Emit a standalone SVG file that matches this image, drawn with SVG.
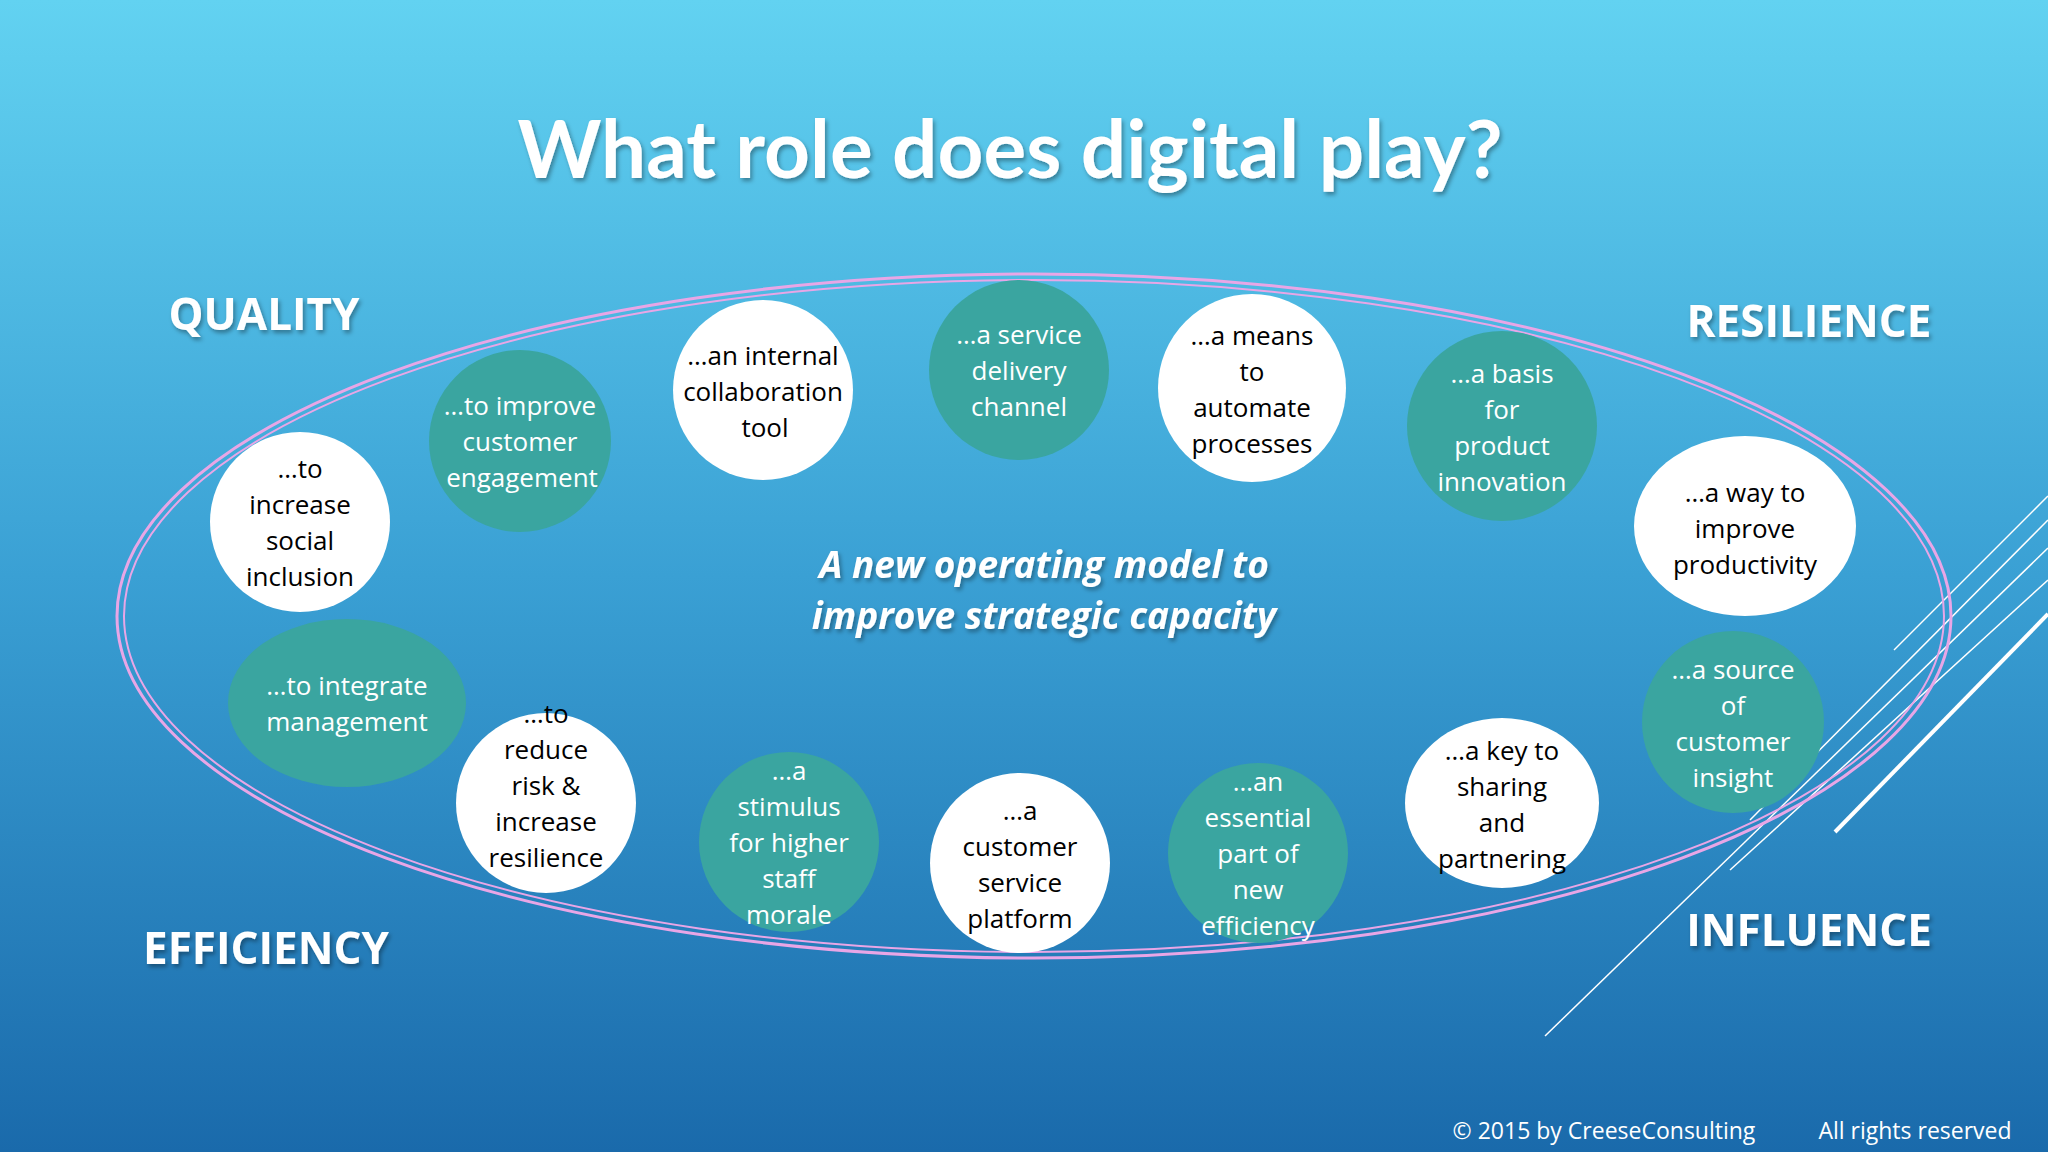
<svg xmlns="http://www.w3.org/2000/svg" width="2048" height="1152" viewBox="0 0 2048 1152">
<defs>
<linearGradient id="bg" x1="0" y1="0" x2="0" y2="1"><stop offset="0" stop-color="#62d2f1"/><stop offset="0.5" stop-color="#3aa0d4"/><stop offset="1" stop-color="#1a6aab"/></linearGradient>
<filter id="sh"><feDropShadow dx="2" dy="3" stdDeviation="2" flood-color="#000" flood-opacity="0.35"/></filter>
</defs>
<style>
.w{fill:#fff}
.t{fill:#3aa5a0}
.n{font-family:"Open Sans","Noto Sans",sans-serif;font-size:26px;text-anchor:middle;dominant-baseline:central}
.nw{fill:#000}.nt{fill:#fff}
.lab{font-family:"Open Sans","Noto Sans",sans-serif;font-size:44px;font-weight:bold;fill:#fff;text-anchor:middle;filter:url(#sh)}
</style>
<rect width="2048" height="1152" fill="url(#bg)"/>
<g id="deco" stroke="#fff" fill="none">
<line x1="2048" y1="496" x2="1894" y2="650" stroke-width="1.5"/>
<line x1="2048" y1="520" x2="1750" y2="820" stroke-width="1.5"/>
<line x1="2048" y1="614" x2="1835" y2="832" stroke-width="4"/>
<line x1="2048" y1="548" x2="1545" y2="1036" stroke-width="1.5"/>
<line x1="2048" y1="580" x2="1730" y2="870" stroke-width="1.5"/>
</g>
<text x="1010" y="178" font-family="Lato,'Open Sans',sans-serif" font-size="80" font-weight="bold" fill="#fff" text-anchor="middle" filter="url(#sh)">What role does digital play?</text>
<g id="connectors" fill="none" stroke="#e8a6e6">
<ellipse cx="1034" cy="616" rx="917" ry="342" stroke-width="3"/>
<ellipse cx="1034" cy="616" rx="910" ry="336" stroke-width="2"/>
</g>
<text class="lab" x="264" y="330">QUALITY</text>
<text class="lab" x="1809" y="337">RESILIENCE</text>
<text class="lab" x="266" y="964">EFFICIENCY</text>
<text class="lab" x="1809" y="946">INFLUENCE</text>
<g font-family="'Open Sans','Noto Sans',sans-serif" font-size="37" font-style="italic" font-weight="bold" fill="#fff" text-anchor="middle" filter="url(#sh)">
<text x="1044" y="578">A new operating model to</text>
<text x="1044" y="629">improve strategic capacity</text>
</g>
<g id="n1"><circle class="w" cx="300" cy="522" r="90"/><text class="n nw" x="300"><tspan x="300" y="468">…to</tspan><tspan x="300" y="504">increase</tspan><tspan x="300" y="540">social</tspan><tspan x="300" y="576">inclusion</tspan></text></g>
<g id="n2"><circle class="t" cx="520" cy="441" r="91"/><text class="n nt"><tspan x="520" y="405">…to improve</tspan><tspan x="520" y="441">customer</tspan><tspan x="522" y="477">engagement</tspan></text></g>
<g id="n3"><circle class="w" cx="763" cy="390" r="90"/><text class="n nw"><tspan x="763" y="355">…an internal</tspan><tspan x="763" y="391">collaboration</tspan><tspan x="765" y="427">tool</tspan></text></g>
<g id="n4"><circle class="t" cx="1019" cy="370" r="90"/><text class="n nt"><tspan x="1019" y="334">…a service</tspan><tspan x="1019" y="370">delivery</tspan><tspan x="1019" y="406">channel</tspan></text></g>
<g id="n5"><circle class="w" cx="1252" cy="388" r="94"/><text class="n nw"><tspan x="1252" y="335">…a means</tspan><tspan x="1252" y="371">to</tspan><tspan x="1252" y="407">automate</tspan><tspan x="1252" y="443">processes</tspan></text></g>
<g id="n6"><circle class="t" cx="1502" cy="426" r="95"/><text class="n nt"><tspan x="1502" y="373">…a basis</tspan><tspan x="1502" y="409">for</tspan><tspan x="1502" y="445">product</tspan><tspan x="1502" y="481">innovation</tspan></text></g>
<g id="n7"><ellipse class="w" cx="1745" cy="526" rx="111" ry="90"/><text class="n nw"><tspan x="1745" y="492">…a way to</tspan><tspan x="1745" y="528">improve</tspan><tspan x="1745" y="564">productivity</tspan></text></g>
<g id="n8"><circle class="t" cx="1733" cy="722" r="91"/><text class="n nt"><tspan x="1733" y="669">…a source</tspan><tspan x="1733" y="705">of</tspan><tspan x="1733" y="741">customer</tspan><tspan x="1733" y="777">insight</tspan></text></g>
<g id="n9"><ellipse class="w" cx="1502" cy="803" rx="97" ry="85"/><text class="n nw"><tspan x="1502" y="750">…a key to</tspan><tspan x="1502" y="786">sharing</tspan><tspan x="1502" y="822">and</tspan><tspan x="1502" y="858">partnering</tspan></text></g>
<g id="n10"><circle class="t" cx="1258" cy="853" r="90"/><text class="n nt"><tspan x="1258" y="781">…an</tspan><tspan x="1258" y="817">essential</tspan><tspan x="1258" y="853">part of</tspan><tspan x="1258" y="889">new</tspan><tspan x="1258" y="925">efficiency</tspan></text></g>
<g id="n11"><circle class="w" cx="1020" cy="863" r="90"/><text class="n nw"><tspan x="1020" y="810">…a</tspan><tspan x="1020" y="846">customer</tspan><tspan x="1020" y="882">service</tspan><tspan x="1020" y="918">platform</tspan></text></g>
<g id="n12"><circle class="t" cx="789" cy="842" r="90"/><text class="n nt"><tspan x="789" y="770">…a</tspan><tspan x="789" y="806">stimulus</tspan><tspan x="789" y="842">for higher</tspan><tspan x="789" y="878">staff</tspan><tspan x="789" y="914">morale</tspan></text></g>
<g id="n13"><circle class="w" cx="546" cy="803" r="90"/><text class="n nw"><tspan x="546" y="713">…to</tspan><tspan x="546" y="749">reduce</tspan><tspan x="546" y="785">risk &amp;</tspan><tspan x="546" y="821">increase</tspan><tspan x="546" y="857">resilience</tspan></text></g>
<g id="n14"><ellipse class="t" cx="347" cy="703" rx="119" ry="84"/><text class="n nt"><tspan x="347" y="685">…to integrate</tspan><tspan x="347" y="721">management</tspan></text></g>
<g font-family="'Open Sans','Noto Sans',sans-serif" font-size="23" fill="#fff" text-anchor="middle">
<text x="1604" y="1139">© 2015 by CreeseConsulting</text>
<text x="1915" y="1139">All rights reserved</text>
</g>
</svg>
